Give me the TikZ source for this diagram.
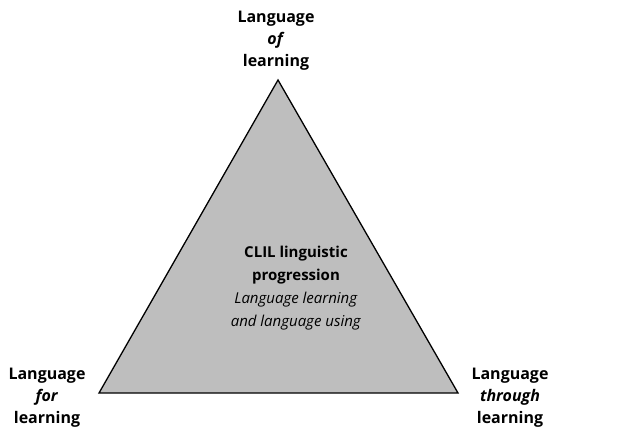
\documentclass[tikz,border=0pt]{standalone}
\usepackage{fontspec}
\setmainfont{Open Sans}
\usepackage{tikz}
\usetikzlibrary{positioning}
\definecolor{trifill}{RGB}{190,190,190}
\tikzset{
    corner/.style={font=\bfseries\fontsize{16}{22}\selectfont, align=center, inner sep=0pt},
    centre/.style={font=\fontsize{15}{22.8}\selectfont, align=center, inner sep=0pt},
}

\begin{document}
\begin{tikzpicture}[x=1pt, y=-1pt]
    \useasboundingbox (0,0) rectangle (624,430);
    % triangle corners
    \coordinate (top) at (278,80);
    \coordinate (left) at (99,393);
    \coordinate (right) at (458,393);
    \draw[line width=1.3pt, fill=trifill, line join=miter] (top) -- (left) -- (right) -- cycle;
    % corner labels
    \node[corner] (lof) at (276,41) {Language\\\textit{of}\\learning};
    \node[corner] (lfor) at (47,398) {Language\\\textit{for}\\learning};
    \node[corner] (lthrough) at (510,398) {Language\\\textit{through}\\learning};
    % middle text
    \node[centre] (clil) at (296,288)
        {\textbf{CLIL linguistic}\\\textbf{progression}\\\textit{Language learning}\\\textit{and language using}};
\end{tikzpicture}
\end{document}
